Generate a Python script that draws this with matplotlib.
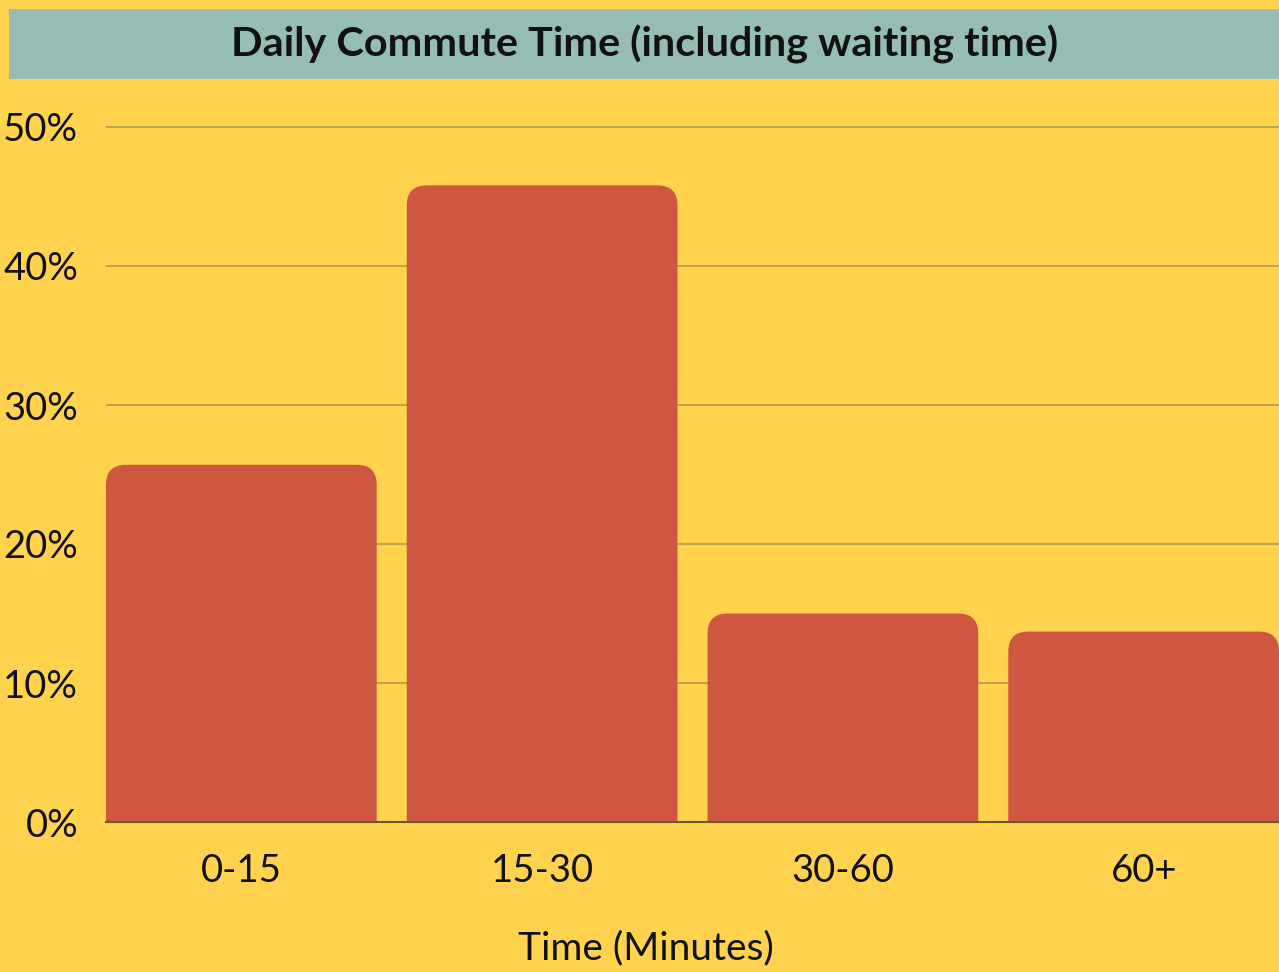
import matplotlib
matplotlib.use('Agg')
import matplotlib.pyplot as plt
from matplotlib.patches import FancyBboxPatch, Rectangle

categories = ['0-15', '15-30', '30-60', '60+']
share_pct = [25.7, 45.8, 15.0, 13.7]
y_ticks = [0, 10, 20, 30, 40, 50]

BG = '#FFD34E'
BAR = '#CF5641'
BAND = '#95BDB3'
GRID = '#BBA04A'
AXIS = '#6B5A2B'

plt.rcParams['font.family'] = ['Lato', 'DejaVu Sans']

fig = plt.figure(figsize=(12.79, 9.72), dpi=100)
fig.patch.set_facecolor(BG)

# title band
fig.patches.append(Rectangle((9 / 1279, 1 - 79 / 972), 1 - 9 / 1279, 70 / 972,
                             transform=fig.transFigure, facecolor=BAND,
                             edgecolor='none', zorder=0))
fig.text(645 / 1279, 1 - 44 / 972, 'Daily Commute Time (including waiting time)',
         ha='center', va='center', fontsize=29.8, fontweight='bold', color='#111111')

ymax = 50.5
px_per_pct = (822 - 127) / 50
top_px = 822 - ymax * px_per_pct
ax = fig.add_axes([106 / 1279, 150 / 972, 1 - 106 / 1279, (822 - top_px) / 972])
ax.set_facecolor(BG)

x = list(range(len(categories)))
bars = ax.bar(x, share_pct, width=0.9, color=BAR)

# swap plain bars for ones with rounded top corners
rad_x = 20 / 300.7
rad_y = 20 / px_per_pct
for b in bars:
    b.set_visible(False)
    p = FancyBboxPatch((b.get_x(), -5), b.get_width(), b.get_height() + 5,
                       boxstyle=f'round,pad=0,rounding_size={rad_x}',
                       mutation_aspect=rad_y / rad_x,
                       facecolor=BAR, edgecolor='none', zorder=2)
    ax.add_patch(p)

ax.set_xlim(-0.45, 3.45)
ax.set_ylim(0, ymax)
ax.set_yticks(y_ticks)
ax.set_yticklabels([f'{v}%' for v in y_ticks])
ax.set_xticks(x)
ax.set_xticklabels(categories)
ax.tick_params(axis='both', length=0, labelsize=27.5, colors='#111111')
ax.tick_params(axis='y', pad=20)
ax.tick_params(axis='x', pad=22)

ax.yaxis.grid(True, color=GRID, linewidth=1.3)
ax.set_axisbelow(True)
for s in ['left', 'right', 'top']:
    ax.spines[s].set_visible(False)
ax.spines['bottom'].set_color(AXIS)
ax.spines['bottom'].set_linewidth(1.5)
ax.spines['bottom'].set_zorder(3)

fig.text(646 / 1279, 1 - 948 / 972, 'Time (Minutes)', ha='center', va='center',
         fontsize=28, color='#111111')

fig.savefig('out.png', dpi=100, facecolor=BG)
